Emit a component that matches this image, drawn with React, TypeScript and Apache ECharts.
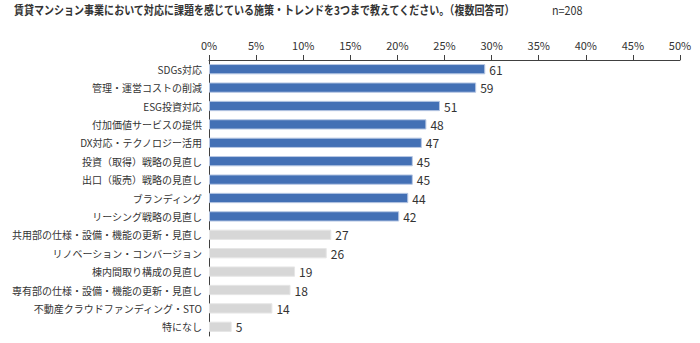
import React, { useEffect, useRef } from "react";
import * as echarts from "echarts";

const categories = [
  "SDGs対応",
  "管理・運営コストの削減",
  "ESG投資対応",
  "付加価値サービスの提供",
  "DX対応・テクノロジー活用",
  "投資（取得）戦略の見直し",
  "出口（販売）戦略の見直し",
  "ブランディング",
  "リーシング戦略の見直し",
  "共用部の仕様・設備・機能の更新・見直し",
  "リノベーション・コンバージョン",
  "棟内間取り構成の見直し",
  "専有部の仕様・設備・機能の更新・見直し",
  "不動産クラウドファンディング・STO",
  "特になし",
];
const counts = [61, 59, 51, 48, 47, 45, 45, 44, 42, 27, 26, 19, 18, 14, 5];
const highlighted = [true, true, true, true, true, true, true, true, true, false, false, false, false, false, false];
const total = 208;
const titleText = "賃貸マンション事業において対応に課題を感じている施策・トレンドを3つまで教えてください。（複数回答可）";
const nText = "n=208";

const FONT = "'Noto Sans CJK JP', 'Noto Sans', sans-serif";

export default function App() {
  const ref = useRef<HTMLDivElement>(null);
  useEffect(() => {
    document.body.style.margin = "0";
    if (!ref.current) return;
    const chart = echarts.init(ref.current, null, { renderer: "svg" });
    const data = counts.map((c, i) => ({
      value: (c / total) * 100,
      count: c,
      itemStyle: {
        color: highlighted[i] ? "#4370B5" : "#D7D7D7",
        borderColor: highlighted[i] ? "#B8C8E4" : "#E6E6E6",
        borderWidth: 1,
      },
    }));
    chart.setOption({
      animation: false,
      textStyle: { fontFamily: FONT },
      graphic: [
        {
          type: "text",
          x: 14,
          y: 4,
          scaleX: 0.835,
          style: { text: titleText, font: `bold 12px ${FONT}`, fill: "#333" },
        },
        {
          type: "text",
          x: 552,
          y: 4,
          scaleX: 0.9,
          style: { text: nText, font: `12px ${FONT}`, fill: "#333" },
        },
      ],
      grid: { left: 209, right: 20, top: 60, bottom: 7, containLabel: false },
      xAxis: {
        type: "value",
        position: "top",
        min: 0,
        max: 50,
        interval: 5,
        axisLine: { show: true, lineStyle: { color: "#404040", width: 1 } },
        axisTick: { show: true, length: 5, lineStyle: { color: "#404040" } },
        axisLabel: {
          formatter: "{value}%",
          color: "#333",
          fontSize: 11,
          fontFamily: FONT,
          margin: 10,
        },
        splitLine: { show: false },
      },
      yAxis: {
        type: "category",
        data: categories,
        inverse: true,
        axisLine: { show: true, lineStyle: { color: "#404040", width: 1 } },
        axisTick: { show: false },
        axisLabel: { color: "#333", fontSize: 10, fontFamily: FONT, margin: 7 },
      },
      series: [
        {
          type: "bar",
          data,
          barCategoryGap: "44%",
          label: {
            show: true,
            position: "right",
            distance: 4,
            color: "#333",
            fontSize: 12,
            fontFamily: FONT,
            formatter: (p: any) => String(p.data.count),
          },
        },
      ],
    });
    return () => chart.dispose();
  }, []);
  return <div ref={ref} style={{ width: 700, height: 343 }} />;
}
